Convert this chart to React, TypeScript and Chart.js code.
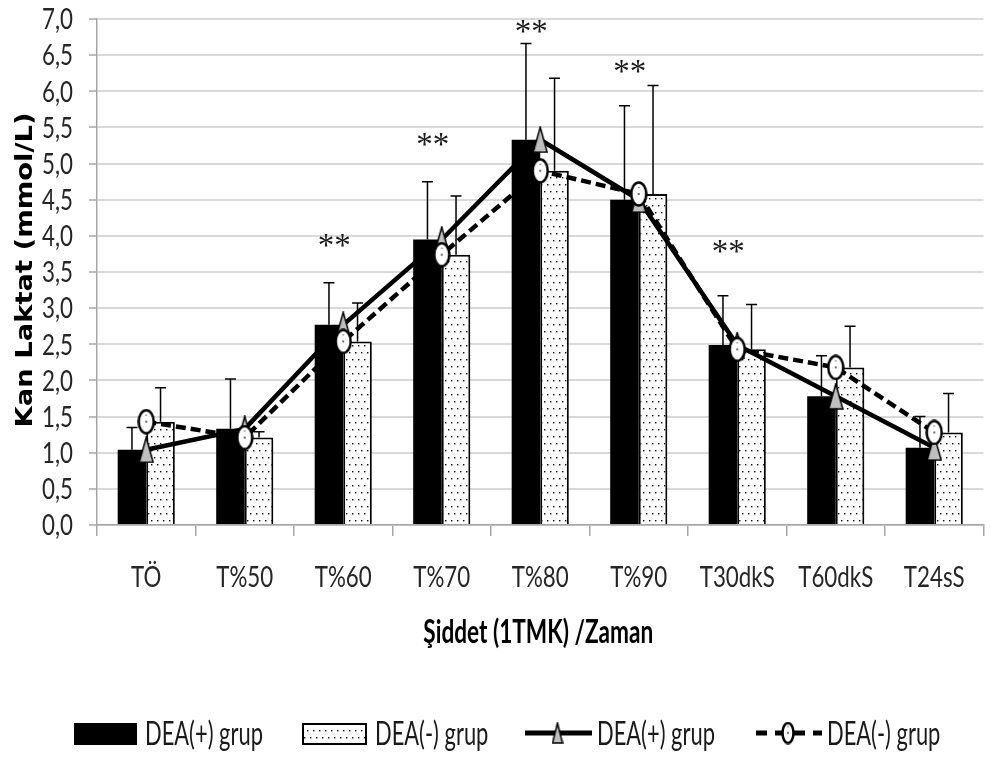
import React, { useEffect, useRef } from "react";
import { Chart, registerables } from "chart.js";

Chart.register(...registerables);

// ---------- data ----------
const categories = ["TÖ", "T%50", "T%60", "T%70", "T%80", "T%90", "T30dkS", "T60dkS", "T24sS"];
const deaPlusMean = [1.04, 1.33, 2.77, 3.95, 5.33, 4.5, 2.49, 1.78, 1.07];
const deaPlusSD = [0.31, 0.69, 0.58, 0.8, 1.33, 1.3, 0.68, 0.56, 0.43];
const deaMinusMean = [1.43, 1.21, 2.54, 3.74, 4.9, 4.58, 2.43, 2.18, 1.28];
const deaMinusSD = [0.47, 0.08, 0.53, 0.81, 1.28, 1.5, 0.62, 0.57, 0.54];
const yTickLabels = ["0,0", "0,5", "1,0", "1,5", "2,0", "2,5", "3,0", "3,5", "4,0", "4,5", "5,0", "5,5", "6,0", "6,5", "7,0"];
const sigCategories = ["T%60", "T%70", "T%80", "T%90", "T30dkS"];
const sigLabelY = [3.93, 5.33, 6.9, 6.34, 3.85];
const sigMark = "*";
const legendLabels = ["DEA(+) grup", "DEA(-) grup", "DEA(+) grup", "DEA(-) grup"];
const xAxisTitle = "Şiddet (1TMK) /Zaman";
const yAxisTitle = "Kan Laktat (mmol/L)";

const errorSets: Record<number, number[]> = { 2: deaPlusSD, 3: deaMinusSD };

// ---------- helpers ----------
function makeTriangle(w: number, h: number) {
  const c = document.createElement("canvas");
  c.width = w;
  c.height = h;
  const g = c.getContext("2d")!;
  g.beginPath();
  g.moveTo(w / 2, 1);
  g.lineTo(w - 1, h - 1);
  g.lineTo(1, h - 1);
  g.closePath();
  g.fillStyle = "#bfbfbf";
  g.fill();
  g.lineWidth = 1.5;
  g.strokeStyle = "#000";
  g.stroke();
  return c;
}

function makeCircle(w: number, h: number) {
  const c = document.createElement("canvas");
  c.width = w;
  c.height = h;
  const g = c.getContext("2d")!;
  g.beginPath();
  g.ellipse(w / 2, h / 2, w / 2 - 1.5, h / 2 - 1.5, 0, 0, Math.PI * 2);
  g.fillStyle = "#fff";
  g.fill();
  g.lineWidth = 2.5;
  g.strokeStyle = "#000";
  g.stroke();
  g.fillStyle = "#000";
  g.fillRect(w / 2 - 0.75, h / 2 - 0.75, 1.5, 1.5);
  g.fillRect(w / 2 - 0.5, h / 2 - 7, 1, 1);
  return c;
}

function makeDotTile() {
  const c = document.createElement("canvas");
  c.width = 6;
  c.height = 14;
  const g = c.getContext("2d")!;
  g.fillStyle = "#fff";
  g.fillRect(0, 0, 6, 14);
  g.fillStyle = "#000";
  g.fillRect(1, 2, 1.4, 1.4);
  g.fillRect(4, 9, 1.4, 1.4);
  return c;
}

function fitFont(ctx: CanvasRenderingContext2D, family: string, weight: string, ref: string, targetW: number) {
  ctx.font = `${weight} 100px ${family}`;
  const w = ctx.measureText(ref).width;
  const size = (100 * targetW) / w;
  const font = `${weight} ${size}px ${family}`;
  ctx.font = font;
  const cap = ctx.measureText("H").actualBoundingBoxAscent;
  return { font, cap };
}

function drawText(
  ctx: CanvasRenderingContext2D,
  text: string,
  x: number,
  y: number,
  font: string,
  sy: number,
  align: CanvasTextAlign,
  color: string
) {
  ctx.save();
  ctx.font = font;
  ctx.textAlign = align;
  ctx.textBaseline = "alphabetic";
  ctx.fillStyle = color;
  ctx.translate(x, y);
  ctx.scale(1, sy);
  ctx.fillText(text, 0, 0);
  ctx.restore();
}

export default function App() {
  const ref = useRef<HTMLCanvasElement | null>(null);

  useEffect(() => {
    document.body.style.margin = "0";
    const canvas = ref.current!;
    const ctx0 = canvas.getContext("2d")!;
    const dotPattern = ctx0.createPattern(makeDotTile(), "repeat")!;
    const tri = makeTriangle(16, 27);
    const circ = makeCircle(18, 26);
    const triSmall = makeTriangle(12, 22);
    const circSmall = makeCircle(14, 23);

    const overlay = {
      id: "overlay",
      afterDatasetDraw(chart: any, args: any) {
        const sd = errorSets[args.index];
        if (!sd) return;
        const ctx = chart.ctx;
        const y = chart.scales.y;
        const meta = args.meta;
        const means = chart.data.datasets[args.index].data;
        ctx.save();
        ctx.strokeStyle = "#000";
        ctx.lineWidth = 1.5;
        meta.data.forEach((bar: any, i: number) => {
          const top = y.getPixelForValue(means[i] + sd[i]);
          const base = y.getPixelForValue(means[i]);
          ctx.beginPath();
          ctx.moveTo(bar.x, base);
          ctx.lineTo(bar.x, top);
          ctx.moveTo(bar.x - 5.5, top);
          ctx.lineTo(bar.x + 5.5, top);
          ctx.stroke();
        });
        ctx.restore();
      },
      afterDraw(chart: any) {
        const ctx: CanvasRenderingContext2D = chart.ctx;
        const xs = chart.scales.x;
        const ys = chart.scales.y;

        // tick labels
        const tick = fitFont(ctx, "Lato", "normal", "T%50", 57);
        const tickSy = 22.7 / tick.cap;
        ys.ticks.forEach((t: any, i: number) => {
          const py = ys.getPixelForValue(t.value);
          drawText(ctx, yTickLabels[i], 73, py + (tick.cap * tickSy) / 2 - 1, tick.font, tickSy, "right", "#262626");
        });
        categories.forEach((c, i) => {
          drawText(ctx, c, xs.getPixelForValue(i), 587, tick.font, tickSy, "center", "#262626");
        });

        // axis titles
        const xt = fitFont(ctx, "Lato", "bold", xAxisTitle, 230);
        drawText(ctx, xAxisTitle, (chart.chartArea.left + chart.chartArea.right) / 2 - 2, 643, xt.font, 25 / xt.cap, "center", "#000");

        ctx.save();
        ctx.font = "bold 100px 'DejaVu Sans'";
        const capRatio = ctx.measureText("H").actualBoundingBoxAscent / 100;
        const ySize = 17 / capRatio;
        ctx.font = `bold ${ySize}px 'DejaVu Sans'`;
        const yw = ctx.measureText(yAxisTitle).width;
        ctx.translate(32, 270);
        ctx.scale(1, 315 / yw);
        ctx.rotate(-Math.PI / 2);
        ctx.textAlign = "center";
        ctx.textBaseline = "alphabetic";
        ctx.fillStyle = "#000";
        ctx.fillText(yAxisTitle, 0, 0);
        ctx.restore();

        // significance marks
        ctx.save();
        ctx.font = "33px 'Liberation Serif'";
        ctx.fillStyle = "#1a1a1a";
        ctx.textAlign = "center";
        ctx.textBaseline = "alphabetic";
        const m = ctx.measureText(sigMark);
        const vOff = (m.actualBoundingBoxAscent - m.actualBoundingBoxDescent) / 2;
        sigCategories.forEach((c, i) => {
          const cx = xs.getPixelForValue(categories.indexOf(c)) - 9;
          const cy = ys.getPixelForValue(sigLabelY[i]) + vOff;
          ctx.fillText(sigMark, cx - 8.3, cy);
          ctx.fillText(sigMark, cx + 8.3, cy);
        });
        ctx.restore();

        // legend
        const lg = fitFont(ctx, "Lato", "normal", legendLabels[0], 118);
        const lgSy = 23 / lg.cap;
        ctx.save();
        ctx.fillStyle = "#000";
        ctx.fillRect(74, 723, 63, 22);
        ctx.fillStyle = dotPattern;
        ctx.fillRect(302, 723, 65, 22);
        ctx.strokeStyle = "#000";
        ctx.lineWidth = 2;
        ctx.strokeRect(303, 724, 63, 20);
        ctx.lineWidth = 5;
        ctx.beginPath();
        ctx.moveTo(525, 733);
        ctx.lineTo(592, 733);
        ctx.stroke();
        ctx.drawImage(triSmall, 557.5 - 6, 733 - 11);
        ctx.lineWidth = 5;
        ctx.setLineDash([11, 8]);
        ctx.beginPath();
        ctx.moveTo(756, 733);
        ctx.lineTo(822, 733);
        ctx.stroke();
        ctx.setLineDash([]);
        ctx.drawImage(circSmall, 788 - 7, 733 - 11.5);
        ctx.restore();
        drawText(ctx, legendLabels[0], 145, 745, lg.font, lgSy, "left", "#1a1a1a");
        drawText(ctx, legendLabels[1], 375, 745, lg.font, lgSy, "left", "#1a1a1a");
        drawText(ctx, legendLabels[2], 597, 745, lg.font, lgSy, "left", "#1a1a1a");
        drawText(ctx, legendLabels[3], 827, 745, lg.font, lgSy, "left", "#1a1a1a");
      },
    };

    const chart = new Chart(canvas, {
      data: {
        labels: categories,
        datasets: [
          {
            type: "line",
            label: legendLabels[2],
            data: deaPlusMean,
            borderColor: "#000",
            borderWidth: 4.5,
            tension: 0,
            pointStyle: tri as any,
            pointRadius: 10,
            order: 1,
          },
          {
            type: "line",
            label: legendLabels[3],
            data: deaMinusMean,
            borderColor: "#000",
            borderWidth: 4.5,
            borderDash: [10, 5],
            tension: 0,
            pointStyle: circ as any,
            pointRadius: 10,
            order: 0,
          },
          {
            type: "bar",
            label: legendLabels[0],
            data: deaPlusMean,
            backgroundColor: "#000",
            borderWidth: 0,
            categoryPercentage: 0.58,
            barPercentage: 1,
            order: 2,
          },
          {
            type: "bar",
            label: legendLabels[1],
            data: deaMinusMean,
            backgroundColor: dotPattern as any,
            borderColor: "#000",
            borderWidth: 2,
            categoryPercentage: 0.58,
            barPercentage: 1,
            order: 3,
          },
        ],
      } as any,
      options: {
        responsive: false,
        animation: false,
        layout: { padding: { top: 19, right: -5, left: 0, bottom: 0 } },
        plugins: { legend: { display: false }, tooltip: { enabled: false }, title: { display: false } },
        scales: {
          x: {
            type: "category",
            offset: true,
            ticks: { display: false },
            grid: { offset: true, drawOnChartArea: false, drawTicks: true, tickLength: 11, color: "#a6a6a6", lineWidth: 1.5 },
            border: { display: true, color: "#a6a6a6", width: 1.5 },
            afterFit(scale: any) {
              scale.height = 232;
            },
          },
          y: {
            min: 0,
            max: 7,
            ticks: { display: false, stepSize: 0.5 },
            grid: { color: "#d9d9d9", lineWidth: 2, tickLength: 8, tickColor: "#a6a6a6", tickWidth: 1.5 },
            border: { display: true, color: "#a6a6a6", width: 1.5 },
            afterFit(scale: any) {
              scale.width = 97;
            },
          },
        },
      } as any,
      plugins: [overlay],
    });
    return () => chart.destroy();
  }, []);

  return (
    <div style={{ width: 998, height: 757, overflow: "hidden", background: "#fff" }}>
      <canvas ref={ref} width={998} height={757} style={{ display: "block" }} />
    </div>
  );
}
